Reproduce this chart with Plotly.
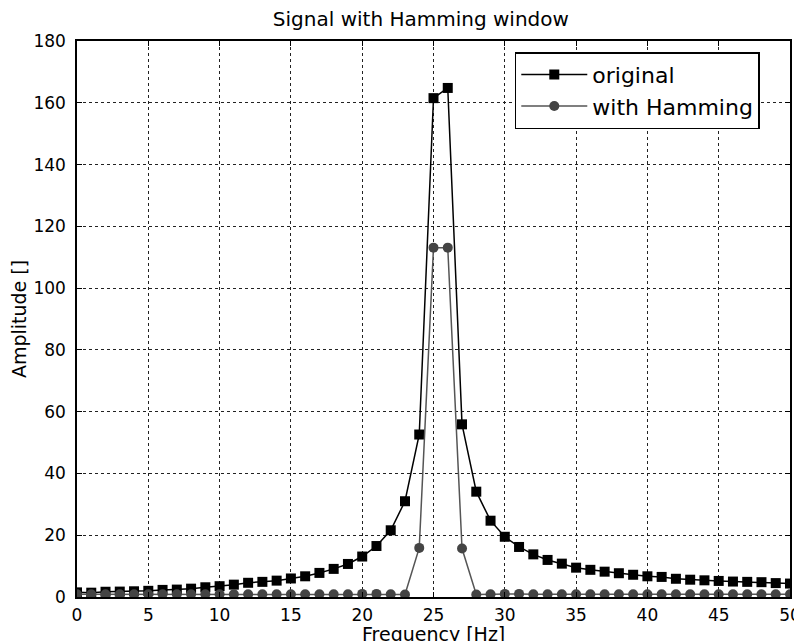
import plotly.graph_objects as go

freq = list(range(51))
original = [1.5, 1.4, 1.7, 1.75, 1.85, 2.0, 2.3, 2.4, 2.7, 3.15, 3.5, 4.0, 4.6, 4.9, 5.3, 6.0,
            6.7, 7.8, 9.1, 10.7, 13.1, 16.5, 21.6, 31.0, 52.6, 161.5, 164.8, 55.9, 34.1, 24.7,
            19.5, 16.2, 13.8, 12.0, 10.8, 9.5, 8.8, 8.2, 7.7, 7.2, 6.7, 6.5, 5.9, 5.6, 5.4,
            5.2, 5.0, 4.9, 4.8, 4.5, 4.35]
hamming = [0.9, 0.9, 0.9, 0.9, 0.9, 0.9, 0.9, 0.9, 0.9, 0.9, 0.9, 0.9, 0.9, 0.9, 0.9, 0.9,
           0.9, 0.9, 0.9, 0.9, 1.0, 1.0, 0.9, 0.8, 15.9, 113.1, 113.1, 15.7, 0.8, 0.9,
           1.0, 1.0, 0.9, 0.9, 0.9, 0.9, 0.9, 0.9, 0.9, 0.9, 0.9, 0.9, 0.9, 0.9, 0.9,
           0.9, 0.9, 0.9, 0.9, 0.9, 0.9]

x_ticks = [0, 5, 10, 15, 20, 25, 30, 35, 40, 45, 50]
y_ticks = [0, 20, 40, 60, 80, 100, 120, 140, 160, 180]

FONT = "DejaVu Sans"

fig = go.Figure()
fig.add_trace(go.Scatter(
    x=freq, y=original, mode="lines+markers", name="original",
    line=dict(color="black", width=1.5),
    marker=dict(symbol="square", size=10, color="black"),
))
fig.add_trace(go.Scatter(
    x=freq, y=hamming, mode="lines+markers", name="with Hamming",
    line=dict(color="#555555", width=1.5),
    marker=dict(symbol="circle", size=10, color="#444444"),
))

axis_common = dict(
    showline=True, linecolor="black", linewidth=1.5, mirror="all",
    ticks="inside", ticklen=5, tickcolor="black", tickwidth=1,
    showgrid=True, gridcolor="#222222", griddash="dot", gridwidth=1,
    zeroline=False, automargin=False,
    tickfont=dict(family=FONT, size=17, color="black"),
)

# page body has an 8px margin, so the figure is sized to the visible area
fig.update_layout(
    width=794, height=633,
    margin=dict(l=69, r=12, t=33, b=44),
    paper_bgcolor="white", plot_bgcolor="white",
    font=dict(family=FONT, color="black"),
    title=dict(text="Signal with Hamming window", x=0.52, xanchor="center",
               y=0.983, yanchor="middle", font=dict(family=FONT, size=20, color="black")),
    xaxis=dict(range=[0, 50], tickvals=x_ticks, ticktext=[str(v) for v in x_ticks],
               ticklabelstandoff=2, **axis_common),
    yaxis=dict(range=[0, 180], tickvals=y_ticks, ticktext=[str(v) for v in y_ticks],
               ticklabelstandoff=6,
               title=dict(text="Amplitude []", font=dict(family=FONT, size=19), standoff=3),
               **axis_common),
    legend=dict(x=0.614, y=0.98, xanchor="left", yanchor="top",
                bordercolor="black", borderwidth=1.5, bgcolor="white",
                font=dict(family=FONT, size=22, color="black"),
                itemwidth=66, tracegroupgap=0),
    showlegend=True,
    annotations=[dict(text="Frequency [Hz]", xref="paper", yref="paper",
                      x=0.5, y=-0.066, xanchor="center", yanchor="middle",
                      showarrow=False, font=dict(family=FONT, size=19, color="black"))],
)

fig.write_html("out.html")
